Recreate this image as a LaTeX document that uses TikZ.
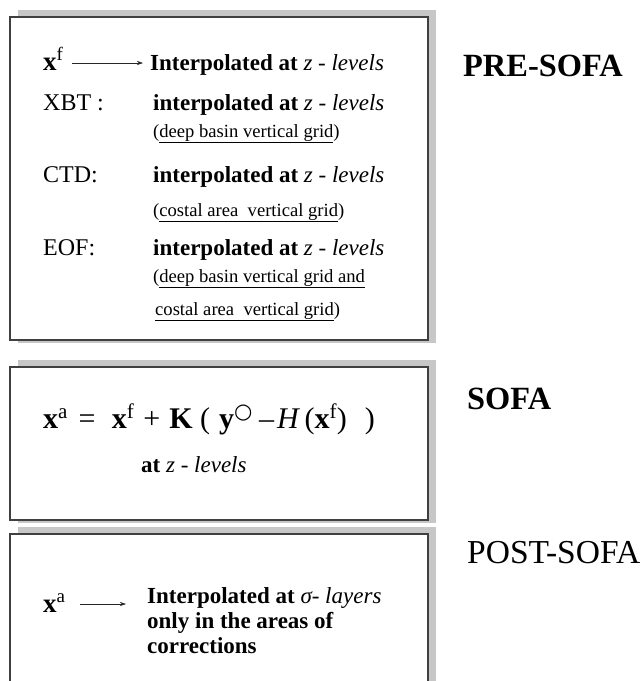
\documentclass[tikz,border=0pt]{standalone}
\usepackage{fontspec}
\setmainfont{Liberation Serif}
\newfontfamily\djv{DejaVu Sans}
\usetikzlibrary{arrows.meta}
\begin{document}
\begin{tikzpicture}[x=1pt,y=-1pt,
  shadowbox/.style={fill=black!22,draw=none},
  mainbox/.style={fill=white,draw=black!75,line width=1.3pt},
  txt/.style={anchor=base west,inner sep=0pt,font=\fontsize{23}{26}\selectfont},
  big/.style={anchor=base west,inner sep=0pt,font=\fontsize{24}{27}\selectfont},
  bigx/.style={anchor=base west,inner sep=0pt,font=\fontsize{27}{30}\selectfont},
  sub/.style={anchor=base west,inner sep=0pt,font=\fontsize{18.6}{21}\selectfont},
  formula/.style={anchor=base west,inner sep=0pt,font=\fontsize{30}{33}\selectfont},
  lbl/.style={anchor=base west,inner sep=0pt,font=\fontsize{32.4}{36}\selectfont\bfseries},
  lblr/.style={anchor=base west,inner sep=0pt,font=\fontsize{33.5}{37}\selectfont},
  arr/.style={-{Stealth[length=6pt,width=4pt]},line width=0.6pt,black!85}]
\useasboundingbox (0,0) rectangle (644,681);
% box 1
\fill[shadowbox] (18,10) rectangle (436,343);
\draw[mainbox] (10,17) rectangle (428,340);
% box 2
\fill[shadowbox] (18,360) rectangle (436,523);
\draw[mainbox] (10,367) rectangle (428,520);
% box 3 (open at bottom)
\fill[shadowbox] (18,527) rectangle (436,681);
\fill[white] (10,534) rectangle (428,681);
\draw[mainbox,fill=none] (10,681) -- (10,534) -- (428,534) -- (428,681);

% box 1 text
\node[bigx] (xf) at (43,70) {\textbf{x}\textsuperscript{f}};
\coordinate (a1s) at (72,63);
\coordinate (a1e) at (143,63);
\node[txt] (int1) at (150,70) {\textbf{Interpolated at} \textit{z - levels}};
\draw[arr] (a1s) -- (a1e);
\node[big] (xbt) at (43,110) {XBT :};
\node[txt] (int2) at (153,110) {\textbf{interpolated at} \textit{z - levels}};
\node[sub] (g1) at (153,137) {(\underline{deep basin vertical grid})};
\node[big] (ctd) at (43,182) {CTD:};
\node[txt] (int3) at (153,182) {\textbf{interpolated at} \textit{z - levels}};
\node[sub] (g2) at (153,216) {(\underline{costal area\ \ vertical grid})};
\node[big] (eof) at (43,255) {EOF:};
\node[txt] (int4) at (153,255) {\textbf{interpolated at} \textit{z - levels}};
\node[sub] (g3) at (153,282) {(\underline{deep basin vertical grid and}};
\node[sub] (g4) at (155,315) {\underline{costal area\ \ vertical grid})};

% box 2 text
\node[formula] (eq) at (43,428) {\textbf{x}\textsuperscript{a}\hspace{0.35em}=\hspace{0.55em}\textbf{x}\textsuperscript{f}\hspace{0.3em}+\hspace{0.3em}\textbf{K}\hspace{0.25em}(\hspace{0.3em}\textbf{y}\textsuperscript{\djv ○}\hspace{0.2em}–\hspace{0.1em}\textit{H}\hspace{0.15em}(\textbf{x}\textsuperscript{f})\hspace{0.6em})};
\node[txt] (atz) at (141,472) {\textbf{at} \textit{z - levels}};

% box 3 text
\node[bigx] (xa) at (43,612) {\textbf{x}\textsuperscript{a}};
\coordinate (a3s) at (80,604);
\coordinate (a3e) at (126,604);
\draw[arr] (a3s) -- (a3e);
\node[txt] (int5) at (147,603) {\textbf{Interpolated at} \textit{σ- layers}};
\node[txt] (only) at (147,628) {\textbf{only in the areas of}};
\node[txt] (corr) at (147,653) {\textbf{corrections}};

% labels
\node[lbl] (pre) at (463,76) {PRE-SOFA};
\node[lbl] (sofa) at (467,409) {SOFA};
\node[lblr] (post) at (467,563) {POST-SOFA};
\end{tikzpicture}
\end{document}
